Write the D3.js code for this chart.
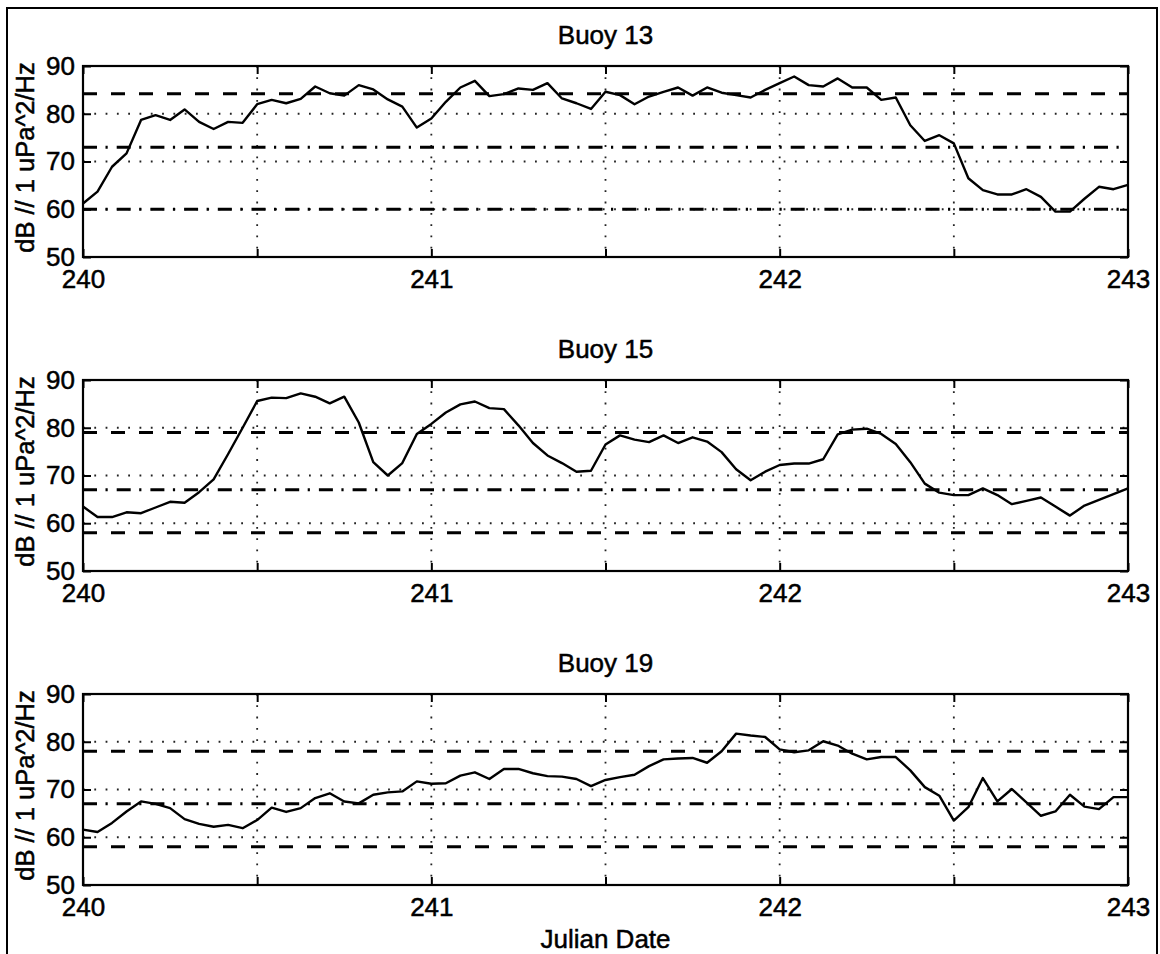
<!DOCTYPE html>
<meta charset="utf-8">
<title>Buoy noise levels</title>
<style>
    body { margin: 0; background: #fff; }
    svg text {
        font-family: "Liberation Sans", Arial, sans-serif;
        fill: #000;
        stroke: #000;
        stroke-width: 0.5px;
    }
    .tick text { font-size: 26px; }
    .frame { fill: none; stroke: #000; stroke-width: 2.2px; }
    .grid line { stroke: #222; stroke-width: 1.8px; stroke-dasharray: 1.8, 9.5; }
    .series { fill: none; stroke: #000; stroke-width: 2.4px; stroke-linejoin: round; }
    .ref { stroke: #000; stroke-width: 3px; }
    .domain { display: none; }
    .tick line { stroke: #000; stroke-width: 2px; }
</style>
<svg width="1160" height="954"></svg>
<script src="https://d3js.org/d3.v7.min.js"></script>
<script>

    // hourly levels, Julian day 240.0 .. 243.0
    var startDay = 240, hoursPerDay = 24;

    var titles = ["Buoy 13", "Buoy 15", "Buoy 19"];

    var buoy13 = [61.2, 63.7, 68.9, 71.7, 78.7, 79.7, 78.7, 80.9, 78.3, 76.8, 78.3, 78.1,
        82.0, 82.9, 82.2, 83.1, 85.7, 84.3, 83.8, 86.0, 85.1, 83.0, 81.5, 77.1,
        79.0, 82.5, 85.5, 86.9, 83.7, 84.1, 85.3, 85.0, 86.4, 83.2, 82.2, 81.0,
        84.6, 83.9, 82.0, 83.6, 84.6, 85.5, 83.8, 85.5, 84.4, 83.9, 83.4, 85.0,
        86.4, 87.8, 86.0, 85.7, 87.4, 85.5, 85.5, 82.9, 83.4, 77.6, 74.3, 75.5,
        73.8, 66.5, 64.0, 63.1, 63.1, 64.2, 62.6, 59.5, 59.5, 62.2, 64.7, 64.2, 65.1];

    var buoy15 = [63.5, 61.3, 61.3, 62.3, 62.1, 63.3, 64.5, 64.3, 66.5, 69.2, 74.5, 80.0,
        85.6, 86.3, 86.2, 87.2, 86.5, 85.1, 86.5, 81.1, 72.8, 70.0, 72.6, 78.7,
        80.8, 83.2, 84.9, 85.5, 84.1, 83.9, 80.5, 76.8, 74.2, 72.6, 70.8, 71.0,
        76.5, 78.4, 77.5, 77.0, 78.4, 76.8, 78.0, 77.1, 74.9, 71.3, 69.0, 70.8,
        72.2, 72.5, 72.5, 73.4, 78.6, 79.6, 79.8, 78.7, 76.6, 72.8, 68.3, 66.4,
        65.9, 65.9, 67.3, 65.9, 64.0, 64.7, 65.4, 63.5, 61.6, 63.7, 64.9, 66.1, 67.3];

    var buoy19 = [61.6, 61.1, 63.0, 65.4, 67.5, 67.0, 66.1, 63.8, 62.8, 62.2, 62.6, 61.9,
        63.6, 66.2, 65.3, 66.1, 68.2, 69.2, 67.5, 67.1, 68.9, 69.4, 69.6, 71.7,
        71.2, 71.3, 72.9, 73.6, 72.2, 74.3, 74.3, 73.4, 72.8, 72.7, 72.2, 70.7,
        72.0, 72.6, 73.1, 74.9, 76.3, 76.5, 76.6, 75.6, 78.0, 81.7, 81.3, 81.0,
        78.4, 77.8, 78.2, 80.1, 79.2, 77.5, 76.3, 76.8, 76.8, 74.0, 70.5, 68.7,
        63.5, 66.3, 72.4, 67.5, 70.1, 67.3, 64.5, 65.4, 68.9, 66.4, 65.9, 68.4, 68.4];

    // reference levels drawn across each panel (upper, middle, lower)
    var refs13 = [84.2, 73.0, 60.0];
    var refs15 = [79.0, 67.0, 58.0];
    var refs19 = [78.0, 67.0, 58.0];

    var xTicks = [240, 240.5, 241, 241.5, 242, 242.5, 243];
    var xLabels = [240, 241, 242, 243];
    var yTicks = [50, 60, 70, 80, 90];
    var yGrid = [60, 70, 80];

    var series = [buoy13, buoy15, buoy19];
    var refs = [refs13, refs15, refs19];
    var refKinds = [["dash", "dashdot", "dashdot"], ["dash", "dashdot", "dash"], ["dash", "dashdot", "dash"]];
    var dashes = { dash: "14,14", dashdot: "14,8.5,2.2,9" };

    var svg = d3.select("svg");

    // outer border of the figure
    svg.append("path")
        .attr("d", "M7,960 L7,8 L1157,8 L1157,960")
        .attr("fill", "none")
        .attr("stroke", "#000")
        .attr("stroke-width", 2);

    var left = 83, right = 1128, panelH = 191;
    var tops = [66, 380, 694];

    var x = d3.scaleLinear().domain([240, 243]).range([left, right]);

    series.forEach(function (vals, p) {
        var top = tops[p];
        var y = d3.scaleLinear().domain([50, 90]).range([top + panelH, top]);
        var g = svg.append("g");

        // dotted grid
        var grid = g.append("g").attr("class", "grid");
        grid.selectAll("line.h").data(yGrid).enter().append("line")
            .attr("x1", left).attr("x2", right)
            .attr("y1", function (d) { return y(d); })
            .attr("y2", function (d) { return y(d); });
        grid.selectAll("line.v").data(xTicks.slice(1, -1)).enter().append("line")
            .attr("x1", function (d) { return x(d); })
            .attr("x2", function (d) { return x(d); })
            .attr("y1", top).attr("y2", top + panelH);

        // reference levels
        g.selectAll("line.ref").data(refs[p]).enter().append("line")
            .attr("class", "ref")
            .attr("x1", left).attr("x2", right)
            .attr("y1", function (d) { return y(d); })
            .attr("y2", function (d) { return y(d); })
            .attr("stroke-dasharray", function (d, i) { return dashes[refKinds[p][i]]; });

        // data line
        g.append("path")
            .datum(vals)
            .attr("class", "series")
            .attr("d", d3.line()
                .x(function (d, i) { return x(startDay + i / hoursPerDay); })
                .y(function (d) { return y(d); }));

        // axes (inward ticks)
        g.append("g")
            .attr("transform", "translate(0," + (top + panelH) + ")")
            .call(d3.axisBottom(x).tickValues(xTicks).tickSize(-8).tickPadding(13)
                .tickFormat(function (d) { return xLabels.indexOf(d) >= 0 ? d : ""; }));
        g.append("g")
            .attr("transform", "translate(0," + top + ")")
            .call(d3.axisTop(x).tickValues(xTicks).tickSize(-8).tickFormat(""));
        g.append("g")
            .attr("transform", "translate(" + left + ",0)")
            .call(d3.axisLeft(y).tickValues(yTicks).tickSize(-8).tickPadding(8));
        g.append("g")
            .attr("transform", "translate(" + right + ",0)")
            .call(d3.axisRight(y).tickValues(yTicks).tickSize(-8).tickFormat(""));

        g.append("rect")
            .attr("class", "frame")
            .attr("x", left).attr("y", top)
            .attr("width", right - left).attr("height", panelH);

        g.append("text")
            .attr("x", (left + right) / 2)
            .attr("y", top - 22)
            .attr("text-anchor", "middle")
            .style("font-size", "26px")
            .text(titles[p]);

        g.append("text")
            .attr("transform", "translate(34," + (top + panelH / 2 - 4) + ") rotate(-90)")
            .attr("text-anchor", "middle")
            .style("font-size", "25.5px")
            .text("dB // 1 uPa^2/Hz");
    });

    svg.append("text")
        .attr("x", (left + right) / 2)
        .attr("y", 948)
        .attr("text-anchor", "middle")
        .style("font-size", "26px")
        .text("Julian Date");

</script>
